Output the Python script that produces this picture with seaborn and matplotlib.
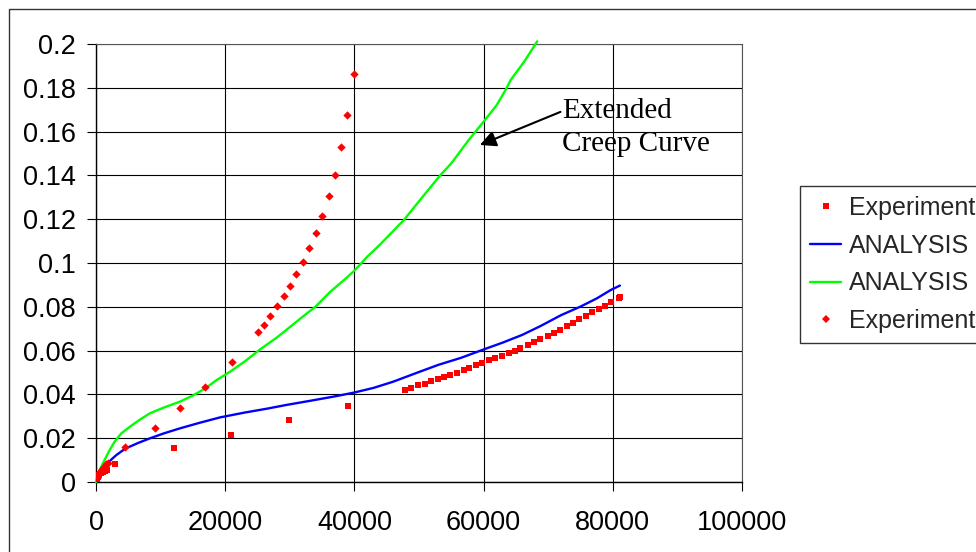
import matplotlib
matplotlib.use("Agg")
import matplotlib.pyplot as plt
from matplotlib.lines import Line2D
import pandas as pd
import seaborn as sns

# Experiment 1 (square markers): strain vs time
exp1_time = [100, 300, 500, 800, 1100, 1400, 1700, 2990, 12040, 20830, 29920, 38960,
             47800, 48800, 49900, 50900, 51800, 52900, 53900, 54800, 55900, 56900,
             57800, 58800, 59800, 60900, 61800, 62900, 63900, 64800, 65700, 66900,
             67800, 68800, 69900, 70900, 71800, 72900, 73800, 74800, 75800, 76800,
             77800, 78800, 79700, 80900, 81100]
exp1_strain = [0.0015, 0.0025, 0.0030, 0.0040, 0.0045, 0.0050, 0.0055, 0.0081, 0.0154,
               0.0216, 0.0283, 0.0347,
               0.0419, 0.0431, 0.0443, 0.0449, 0.0461, 0.0472, 0.0478, 0.0489, 0.0499,
               0.0510, 0.0522, 0.0533, 0.0543, 0.0556, 0.0566, 0.0577, 0.0589, 0.0600,
               0.0612, 0.0627, 0.0639, 0.0653, 0.0667, 0.0682, 0.0695, 0.0712, 0.0726,
               0.0743, 0.0759, 0.0775, 0.0790, 0.0805, 0.0823, 0.0838, 0.0845]

# Experiment 2 (diamond markers)
exp2_time = [150, 300, 500, 700, 1000, 1300, 1600, 1900, 4550, 9090, 12950, 16950,
             21030, 25120, 26050, 26980, 27950, 29040, 29970, 31000, 32040, 33020,
             34000, 34930, 36070, 37000, 37930, 38870, 40000]
exp2_strain = [0.0020, 0.0030, 0.0040, 0.0050, 0.0060, 0.0070, 0.0080, 0.0088, 0.0158,
               0.0247, 0.0338, 0.0434, 0.0548, 0.0683, 0.0717, 0.0758, 0.0802, 0.0848,
               0.0894, 0.0951, 0.1006, 0.1068, 0.1137, 0.1216, 0.1307, 0.1403, 0.1528,
               0.1676, 0.1863]

# Analysis curve 1 (blue)
ana1_time = [0, 400, 820, 1300, 1860, 2500, 3150, 4500, 6500, 8400, 10500, 13000,
             16000, 19200, 23000, 26500, 29500, 33000, 36800, 39900, 43000, 46000,
             49700, 53000, 56500, 59800, 63000, 66000, 68800, 72000, 75000, 77500,
             79700, 81100]
ana1_strain = [0.0, 0.0035, 0.0055, 0.0072, 0.0088, 0.0106, 0.0123, 0.0152, 0.0178,
               0.0200, 0.0222, 0.0245, 0.0270, 0.0295, 0.0317, 0.0335, 0.0352, 0.0370,
               0.0390, 0.0408, 0.0430, 0.0458, 0.0499, 0.0535, 0.0567, 0.0603, 0.0637,
               0.0672, 0.0712, 0.0762, 0.0801, 0.0838, 0.0877, 0.0897]

# Analysis curve 2 (green, extended creep curve)
ana2_time = [0, 300, 820, 1400, 2120, 2900, 3920, 5270, 6800, 8370, 10500, 13000,
             15000, 16950, 18700, 20770, 23000, 25430, 28000, 30080, 32000, 33950,
             36280, 38500, 40000, 42000, 44000, 47650, 50500, 53330, 55000, 57700,
             59800, 62000, 63400, 64200, 66300, 68300]
ana2_strain = [0.0, 0.0035, 0.0070, 0.0105, 0.0146, 0.0185, 0.0222, 0.0253, 0.0285,
               0.0314, 0.0340, 0.0367, 0.0395, 0.0428, 0.0466, 0.0504, 0.0550, 0.0606,
               0.0660, 0.0709, 0.0755, 0.0800, 0.0869, 0.0925, 0.0965, 0.1029, 0.1085,
               0.1196, 0.1300, 0.1402, 0.1455, 0.1562, 0.1638, 0.1720, 0.1790, 0.1836,
               0.1920, 0.2012]

x_ticks = [0, 20000, 40000, 60000, 80000, 100000]
y_ticks = [0, 0.02, 0.04, 0.06, 0.08, 0.1, 0.12, 0.14, 0.16, 0.18, 0.2]

legend_labels = ["Experiment", "ANALYSIS", "ANALYSIS", "Experiment"]
note_text = "Extended\nCreep Curve"

df_e1 = pd.DataFrame({"t": exp1_time, "e": exp1_strain})
df_e2 = pd.DataFrame({"t": exp2_time, "e": exp2_strain})
df_a1 = pd.DataFrame({"t": ana1_time, "e": ana1_strain})
df_a2 = pd.DataFrame({"t": ana2_time, "e": ana2_strain})

sns.set_theme(style="white")
plt.rcParams["font.family"] = ["Liberation Sans", "DejaVu Sans"]

W, H = 976, 552
fig = plt.figure(figsize=(W / 100, H / 100), dpi=100)
fig.patch.set_facecolor("white")
ax = fig.add_axes([96 / W, 1 - 482 / H, 646 / W, 438 / H])
ax.set_facecolor("white")

sns.lineplot(data=df_a1, x="t", y="e", ax=ax, color="#0000FF", lw=1.7,
             sort=False, estimator=None, label=legend_labels[1], zorder=3)
sns.lineplot(data=df_a2, x="t", y="e", ax=ax, color="#00FF00", lw=1.7,
             sort=False, estimator=None, label=legend_labels[2], zorder=3,
             clip_on=False)
sns.scatterplot(data=df_e1, x="t", y="e", ax=ax, marker="s", color="#FF0000",
                s=22, linewidth=0, label=legend_labels[0], zorder=4)
sns.scatterplot(data=df_e2, x="t", y="e", ax=ax, marker="D", color="#FF0000",
                s=18, linewidth=0, label=legend_labels[3], zorder=4)

ax.set_xlim(0, 100000)
ax.set_ylim(0, 0.2)
ax.set_xticks(x_ticks)
ax.set_yticks(y_ticks)
ax.set_xticklabels([f"{v:g}" for v in x_ticks])
ax.set_yticklabels([f"{v:g}" for v in y_ticks])
ax.set_xlabel("")
ax.set_ylabel("")

ax.grid(True, color="black", lw=0.8, zorder=0)
ax.set_axisbelow(True)
for side in ("left", "bottom"):
    ax.spines[side].set_color("black")
    ax.spines[side].set_linewidth(1.0)
for side in ("top", "right"):
    ax.spines[side].set_color("#555555")
    ax.spines[side].set_linewidth(0.8)

ax.tick_params(axis="both", direction="out", length=6.5, width=0.8, color="black",
               labelsize=19.5, labelcolor="black")
ax.tick_params(axis="x", pad=14, bottom=True)
ax.tick_params(axis="y", pad=8, left=True)

# Arrow and callout text for the extended curve
ax.annotate("", xy=(59430, 0.1539), xytext=(71900, 0.1690),
            arrowprops=dict(arrowstyle="-|>", color="black", lw=1.5,
                            mutation_scale=24, shrinkA=0, shrinkB=0))
ax.text(72100, 0.1755, note_text, family=["Liberation Serif", "DejaVu Serif"],
        fontsize=21, color="black", va="top", ha="left", linespacing=1.36)

# Legend
sq = Line2D([], [], ls="none", marker="s", color="#FF0000", ms=4.5, mew=0)
bl = Line2D([], [], color="#0000FF", lw=1.7)
gr = Line2D([], [], color="#00FF00", lw=1.7)
di = Line2D([], [], ls="none", marker="D", color="#FF0000", ms=4.0, mew=0)
leg = ax.legend([sq, bl, gr, di], legend_labels, loc="upper left",
                bbox_to_anchor=(800 / W, 1 - 186 / H), bbox_transform=fig.transFigure,
                borderaxespad=0, frameon=True, fancybox=False, fontsize=18,
                handlelength=1.25, handletextpad=0.3, borderpad=0.4,
                labelspacing=0.55, numpoints=1)
leg.get_frame().set_edgecolor("black")
leg.get_frame().set_linewidth(1.0)
leg.get_frame().set_facecolor("white")

# Outer chart border
fig.add_artist(Line2D([8.5 / W, 8.5 / W, 1.0], [0.0, 1 - 8.5 / H, 1 - 8.5 / H],
                      transform=fig.transFigure, color="#333333", lw=1.0))

fig.savefig("out.png", dpi=100)
